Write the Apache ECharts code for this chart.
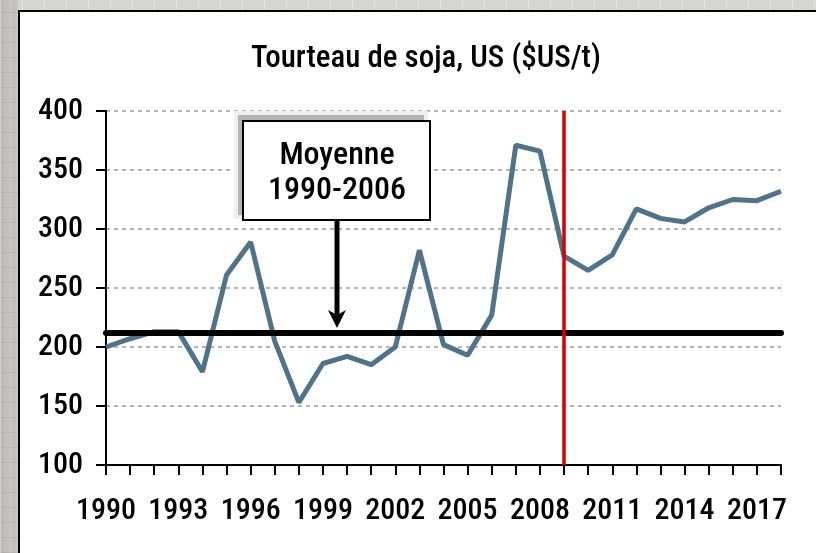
<!DOCTYPE html>
<html>
<head>
<meta charset="utf-8">
<script src="https://cdn.jsdelivr.net/npm/echarts@6/dist/echarts.min.js"></script>
<style>
  html, body { margin: 0; padding: 0; }
  body {
    width: 816px; height: 553px; overflow: hidden; position: relative;
    background-color: #cfcfca;
    background-image:
      repeating-linear-gradient(90deg, rgba(255,255,255,0.35) 0 1px, transparent 1px 22px),
      repeating-linear-gradient(0deg, rgba(0,0,0,0.06) 0 1px, transparent 1px 15px),
      linear-gradient(90deg, #b9b8b0 0px, #c8c7c0 12px, #bdbdbd 14px, #c9c9c9 18px, #d6d5cf 19px);
  }
  #panel {
    position: absolute; left: 18px; top: 10px; right: -4px; bottom: -4px;
    background: #ffffff; border: 2px solid #000; box-sizing: border-box;
  }
  #chart { position: absolute; left: 0; top: 0; width: 816px; height: 553px; }
</style>
</head>
<body>
<div id="panel"></div>
<div id="chart"></div>
<script>
// ---- data ----
const years = ['1990','1991','1992','1993','1994','1995','1996','1997','1998','1999',
               '2000','2001','2002','2003','2004','2005','2006','2007','2008','2009',
               '2010','2011','2012','2013','2014','2015','2016','2017','2018'];
const prices = [200, 207, 213, 213, 179, 261, 289, 205, 153, 186,
                192, 185, 200, 282, 202, 193, 227, 371, 366, 277,
                265, 278, 317, 309, 306, 318, 325, 324, 332];
const meanValue = 212;           // Moyenne 1990-2006
const markerYear = '2009';       // red vertical line
const titleText = 'Tourteau de soja, US ($US/t)';
const annotationLines = ['Moyenne', '1990-2006'];
const yTicks = { min: 100, max: 400, step: 50 };

const FONT = '"Roboto Condensed", "DejaVu Sans Condensed", sans-serif';
const WEIGHT = 500;

const chart = echarts.init(document.getElementById('chart'), null, { renderer: 'canvas' });

chart.setOption({
  backgroundColor: 'transparent',
  animation: false,
  title: {
    text: titleText,
    left: 251,
    top: 44,
    padding: 0,
    textStyle: { fontFamily: FONT, fontSize: 31, fontWeight: WEIGHT, color: '#000' }
  },
  grid: { left: 106, right: 35, top: 111, bottom: 88, containLabel: false },
  xAxis: {
    type: 'category',
    data: years,
    boundaryGap: false,
    axisLine: { show: true, onZero: false, lineStyle: { color: '#000', width: 2 } },
    axisTick: { show: true, interval: 0, length: 10, inside: false, lineStyle: { color: '#000', width: 2 } },
    axisLabel: { interval: 2, margin: 31, fontFamily: FONT, fontWeight: WEIGHT, fontSize: 30, color: '#000' },
    splitLine: { show: false }
  },
  yAxis: {
    type: 'value',
    min: yTicks.min, max: yTicks.max, interval: yTicks.step,
    axisLine: { show: true, lineStyle: { color: '#000', width: 2 } },
    axisTick: { show: true, length: 10, lineStyle: { color: '#000', width: 2 } },
    axisLabel: { margin: 23, fontFamily: FONT, fontWeight: WEIGHT, fontSize: 30, color: '#000' },
    splitLine: { show: true, lineStyle: { color: '#b5b5b5', width: 2, type: [4, 4] } }
  },
  series: [
    {
      type: 'line',
      data: prices,
      symbol: 'none',
      z: 3,
      lineStyle: { color: '#4f7389', width: 5 }
    },
    {
      type: 'line',
      data: [],
      z: 4,
      markLine: {
        silent: true, symbol: 'none', animation: false,
        label: { show: false },
        lineStyle: { color: '#000', width: 6, type: 'solid', cap: 'round' },
        data: [{ yAxis: meanValue }]
      }
    },
    {
      type: 'line',
      data: [],
      z: 5,
      markLine: {
        silent: true, symbol: 'none', animation: false,
        label: { show: false },
        lineStyle: { color: '#d80000', width: 3.5, type: 'solid' },
        data: [{ xAxis: markerYear }]
      }
    }
  ],
  graphic: [
    { type: 'rect', shape: { x: 234, y: 111, width: 194, height: 108 }, style: { fill: '#efefef' }, z: 10 },
    { type: 'rect', shape: { x: 238, y: 115, width: 186, height: 100 }, style: { fill: '#b4b4b4' }, z: 11 },
    { type: 'rect', shape: { x: 243, y: 121, width: 187, height: 99 },
      style: { fill: '#fff', stroke: '#000', lineWidth: 2 }, z: 12 },
    { type: 'text', x: 337, y: 173, z: 13,
      style: { text: annotationLines.join('\n'), fontFamily: FONT, fontWeight: WEIGHT, fontSize: 32, lineHeight: 35,
               fill: '#000', align: 'center', verticalAlign: 'middle' } },
    { type: 'line', shape: { x1: 337, y1: 221, x2: 337, y2: 316 }, style: { stroke: '#000', lineWidth: 5 }, z: 13 },
    { type: 'polygon', shape: { points: [[328, 310], [337, 328], [346, 310], [337, 315]] },
      style: { fill: '#000' }, z: 13 }
  ]
});
</script>
</body>
</html>
